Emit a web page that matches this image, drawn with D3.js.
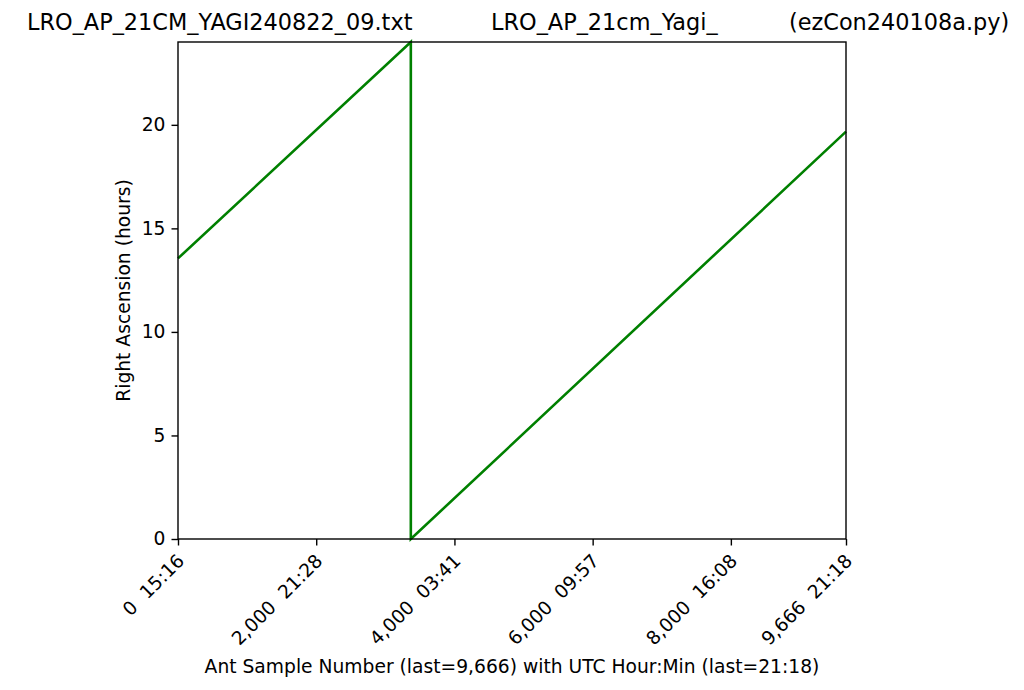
<!DOCTYPE html>
<html>
<head>
<meta charset="utf-8">
<script src="https://cdn.jsdelivr.net/npm/d3@7"></script>
<style>
  html, body { margin: 0; padding: 0; background: #fff; }
  text { font-family: "DejaVu Sans", sans-serif; fill: #000; }
</style>
</head>
<body>
<svg id="chart" width="1024" height="690"></svg>
<script>
// ---- data ----
const sampleNumbers = [0, 3369, 3369, 9666];
const raHours = [13.55, 24.0, 0.0, 19.67];
const xTickValues = [0, 2000, 4000, 6000, 8000, 9666];
const xTickLabels = ["0  15:16", "2,000  21:28", "4,000  03:41", "6,000  09:57", "8,000  16:08", "9,666  21:18"];
const yTickValues = [0, 5, 10, 15, 20];
const titleParts = ["LRO_AP_21CM_YAGI240822_09.txt", "LRO_AP_21cm_Yagi_", "(ezCon240108a.py)"];
const xLabel = "Ant Sample Number (last=9,666) with UTC Hour:Min (last=21:18)";
const yLabel = "Right Ascension (hours)";

// ---- layout ----
const svg = d3.select("#chart");
const plotL = 178, plotR = 846, plotT = 42, plotB = 539;
const fs = "18.7px";
const x = d3.scaleLinear().domain([0, 9666]).range([plotL, plotR]);
const y = d3.scaleLinear().domain([0, 24]).range([plotB, plotT]);

// line
const pts = sampleNumbers.map((s, i) => [s, raHours[i]]);
svg.append("path")
  .datum(pts)
  .attr("d", d3.line().x(d => x(d[0])).y(d => y(d[1])))
  .attr("fill", "none")
  .attr("stroke", "#008000")
  .attr("stroke-width", 2.6)
  .attr("stroke-linejoin", "miter");

// frame
svg.append("rect")
  .attr("x", plotL).attr("y", plotT)
  .attr("width", plotR - plotL).attr("height", plotB - plotT)
  .attr("fill", "none").attr("stroke", "#000").attr("stroke-width", 1.4);

// y axis
const yAxis = d3.axisLeft(y).tickValues(yTickValues).tickSize(6.5).tickPadding(6).tickFormat(d3.format("d"));
const gy = svg.append("g").attr("transform", `translate(${plotL},0)`).call(yAxis);
gy.select(".domain").remove();
gy.selectAll(".tick line").attr("stroke", "#000").attr("stroke-width", 1.4);
gy.selectAll(".tick text").style("font-family", "DejaVu Sans").style("font-size", fs).attr("fill", "#000");

// x axis
const xAxis = d3.axisBottom(x).tickValues(xTickValues).tickSize(6.5).tickFormat((d, i) => xTickLabels[i]);
const gx = svg.append("g").attr("transform", `translate(0,${plotB})`).call(xAxis);
gx.select(".domain").remove();
gx.selectAll(".tick line").attr("stroke", "#000").attr("stroke-width", 1.4);
gx.selectAll(".tick text")
  .style("font-family", "DejaVu Sans").style("font-size", fs)
  .attr("fill", "#000")
  .attr("xml:space", "preserve")
  .style("white-space", "pre")
  .attr("text-anchor", "end")
  .attr("dy", null)
  .attr("y", 0)
  .attr("transform", "translate(7,23) rotate(-45)");

// axis labels
svg.append("text")
  .attr("x", (plotL + plotR) / 2).attr("y", 673)
  .attr("text-anchor", "middle")
  .style("font-size", fs)
  .text(xLabel);

svg.append("text")
  .attr("transform", `translate(130,${(plotT + plotB) / 2}) rotate(-90)`)
  .attr("text-anchor", "middle")
  .style("font-size", fs)
  .text(yLabel);

// title
const titleX = [27, 491, 789];
svg.selectAll("text.title").data(titleParts).enter().append("text")
  .attr("class", "title")
  .attr("x", (d, i) => titleX[i]).attr("y", 30)
  .style("font-size", "22.4px")
  .text(d => d);
</script>
</body>
</html>
